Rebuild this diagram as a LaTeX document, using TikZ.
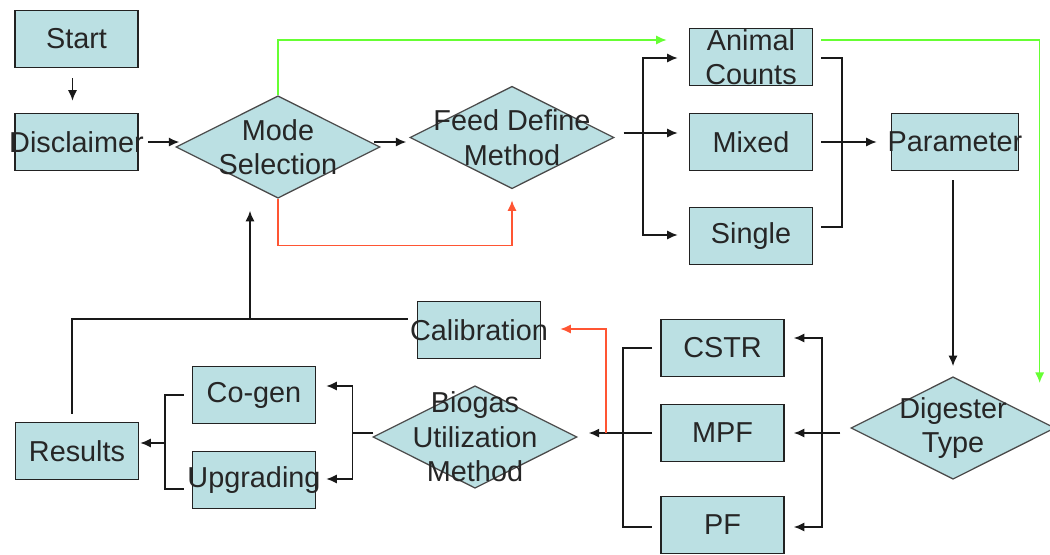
\documentclass[tikz,border=0pt]{standalone}
\usepackage{fontspec}
\setmainfont{Liberation Sans}
\usetikzlibrary{shapes.geometric,arrows.meta,calc}
\definecolor{boxfill}{HTML}{BBE0E3}
\definecolor{boxline}{HTML}{222222}
\definecolor{flowgreen}{HTML}{66FF33}
\definecolor{flowred}{HTML}{FF5533}
\tikzset{
  lbl/.style={font=\fontsize{20.5}{24.5}\selectfont, align=center, inner sep=0pt, text=black!85},
  procbox/.style={draw=boxline, line width=1.1pt, fill=boxfill, rectangle,
    minimum width=3.075cm, minimum height=1.425cm, inner sep=0pt},
  decision/.style={draw=black!70, line width=0.9pt, fill=boxfill, diamond,
    minimum width=5.1cm, minimum height=2.56cm, inner sep=0pt},
  conn/.style={line width=1.15pt, black!90},
  arr/.style={conn, -{Latex[length=7.5pt,width=6.5pt]}},
  garr/.style={line width=1.15pt, flowgreen, -{Latex[length=7.5pt,width=6.5pt]}},
  rarr/.style={line width=1.15pt, flowred, -{Latex[length=7.5pt,width=6.5pt]}},
}
\begin{document}
\begin{tikzpicture}[x=0.025cm, y=-0.025cm]
\useasboundingbox[fill=white] (0,0) rectangle (1050,554);

% process boxes
\node[procbox, label={[lbl]center:Start}] (start) at (76.5,39) {};
\node[procbox, label={[lbl]center:Disclaimer}] (disc) at (76.5,142) {};
\node[procbox, label={[lbl]center:Animal\\Counts}] (animal) at (751,57) {};
\node[procbox, label={[lbl]center:Mixed}] (mixed) at (751,142) {};
\node[procbox, label={[lbl]center:Single}] (single) at (751,236) {};
\node[procbox, minimum width=3.175cm, label={[lbl]center:Parameter}] (param) at (955,142) {};
\node[procbox, label={[lbl]center:CSTR}] (cstr) at (722.5,348) {};
\node[procbox, label={[lbl]center:MPF}] (mpf) at (722.5,433) {};
\node[procbox, label={[lbl]center:PF}] (pf) at (722.5,525) {};
\node[procbox, label={[lbl]center:Calibration}] (calib) at (479,330) {};
\node[procbox, label={[lbl]center:Co-gen}] (cogen) at (254,395) {};
\node[procbox, label={[lbl]center:Upgrading}] (upg) at (254,480) {};
\node[procbox, label={[lbl]center:Results}] (results) at (77,451) {};

% decisions
\node[decision, label={[lbl]center:Mode\\Selection}] (mode) at (278,147) {};
\node[decision, label={[lbl]center:Feed Define\\Method}] (feed) at (512,137.5) {};
\node[decision, label={[lbl]center:Digester\\Type}] (dig) at (953,428) {};
\node[decision, label={[lbl]center:Biogas\\Utilization\\Method}] (biogas) at (475,437) {};

% top row
\draw[arr] ($(start.south)+(-4,10)$) -- ($(disc.north)+(-4,-12)$);
\draw[arr] ($(disc.east)+(9,0)$) -- ($(mode.west |- disc.east)+(4,0)$);
\draw[arr] ($(mode.east |- disc.east)+(-7,0)$) -- ($(feed.west |- disc.east)+(-3,0)$);

% green bypass
\draw[garr] (mode.north) |- ($(animal.west)+(-22,-17)$);
\draw[garr] ($(animal.east)+(8,-17)$) -| ($(dig.east)+(-16,-45)$);

% red bypass
\draw[rarr] (mode.south) |- ($(feed.south)+(0,56)$) -- ($(feed.south)+(0,11)$);

% feed definition branches
\coordinate (fb) at ($(feed.east)+(28.5,-4.5)$);
\draw[conn] ($(feed.east)+(9,-4.5)$) -- (fb);
\draw[arr] (fb) |- ($(animal.west)+(-11,1)$);
\draw[arr] (fb) -- ($(mixed.west)+(-11,-9)$);
\draw[arr] (fb) |- ($(single.west)+(-11,-1)$);

% merge into parameter
\draw[conn] ($(animal.east)+(8,1)$) -| ($(mixed.east)+(29,0)$) |- ($(single.east)+(8,-9)$);
\draw[arr] ($(mixed.east)+(8,0)$) -- ($(param.west)+(-14,0)$);

% parameter to digester
\draw[arr] ($(dig.north |- param.south)+(0,9)$) -- ($(dig.north)+(0,-10)$);

% digester branches
\coordinate (db) at ($(mpf.east)+(37,0)$);
\draw[conn] ($(dig.west)+(-10,5)$) -- (db);
\draw[arr] (db) |- ($(cstr.east)+(9,-10)$);
\draw[arr] (db) -- ($(mpf.east)+(9,0)$);
\draw[arr] (db) |- ($(pf.east)+(9,2)$);

% merge into biogas utilization
\draw[conn] ($(cstr.west)+(-8,0)$) -| ($(mpf.west)+(-37,0)$) |- ($(pf.west)+(-8,2)$);
\draw[arr] ($(mpf.west)+(-8,0)$) -- ($(biogas.east)+(11,-4)$);
\draw[rarr] ($(mpf.west)+(-54,0)$) |- ($(calib.east)+(19,-1)$);

% biogas utilization branches
\coordinate (bb) at ($(biogas.west)+(-20,-4)$);
\draw[conn] ($(biogas.west)+(1,-4)$) -- (bb);
\draw[arr] (bb) |- ($(cogen.east)+(10,-9)$);
\draw[arr] (bb) |- ($(upg.east)+(10,-1)$);

% merge into results
\draw[conn] ($(cogen.west)+(-8,0)$) -| ($(upg.west)+(-27,9)$) -- ($(upg.west)+(-8,9)$);
\draw[arr] ($(cogen.west)+(-27,48)$) -- ($(results.east)+(1,-8)$);

% feedback loop to mode selection
\coordinate (jn) at ($(mode.south)+(-28,121)$);
\draw[conn] ($(calib.west)+(-9,-11)$) -| ($(results.north)+(-5,-8)$);
\draw[arr] (jn) -- ($(mode.south)+(-28,12)$);
\end{tikzpicture}
\end{document}
